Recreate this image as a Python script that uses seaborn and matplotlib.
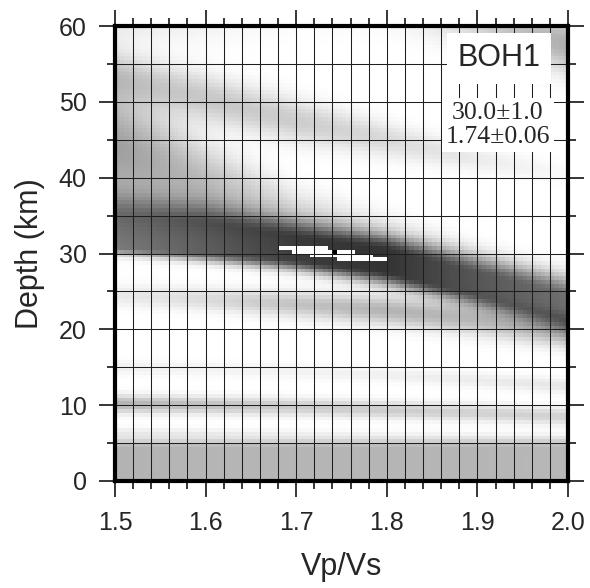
import numpy as np
import matplotlib
matplotlib.use("Agg")
import matplotlib.pyplot as plt
from matplotlib.colors import LinearSegmentedColormap, ListedColormap
import seaborn as sns

# ---- H-k stack description -------------------------------------------------
station = "BOH1"
best_depth, depth_err = 30.0, 1.0      # km
best_kappa, kappa_err = 1.74, 0.06     # Vp/Vs

k_min, k_max, dk = 1.5, 2.0, 0.005
h_min, h_max, dh = 0.0, 60.0, 0.5

k_knots = [1.50, 1.60, 1.70, 1.80, 1.90, 2.00]

# main crustal arrival ridge (asymmetric, flat-topped)
main_center = [32.7, 31.9, 30.6, 29.0, 26.0, 23.0]
main_flat = [1.8, 1.8, 1.4, 1.4, 1.3, 1.4]
main_sig_lo = [0.7, 0.8, 1.0, 1.2, 1.2, 1.3]
main_sig_hi = [2.5, 2.2, 1.8, 1.6, 1.8, 1.8]
main_amp = [0.50, 0.62, 0.76, 0.80, 0.66, 0.56]

# secondary ridges: (center, width, amplitude) along k
halo_center = [44.0, 39.5, 36.0, 34.0, 31.0, 28.0]
halo_sig = [5.5, 3.5, 2.0, 1.5, 1.5, 1.5]
halo_amp = [0.38, 0.26, 0.12, 0.05, 0.0, 0.0]

upper_center = [53.5, 50.5, 47.5, 45.0, 42.5, 40.5]
upper_sig = [2.2, 2.2, 2.0, 1.6, 1.2, 1.0]
upper_amp = [0.20, 0.22, 0.20, 0.15, 0.08, 0.02]

top_center = [62.5, 62.5, 63.0, 63.0, 61.0, 57.5]
top_sig = [3.0, 3.0, 2.5, 2.5, 2.5, 2.5]
top_amp = [0.12, 0.08, 0.03, 0.05, 0.20, 0.32]

lower_center = [24.5, 24.0, 23.3, 22.5, 21.3, 19.6]
lower_sig = [1.0, 1.1, 1.2, 1.3, 1.4, 1.4]
lower_amp = [0.08, 0.14, 0.24, 0.30, 0.28, 0.30]

mid_center = [15.0, 14.8, 14.5, 14.0, 13.3, 12.5]
mid_sig = [0.7, 0.7, 0.7, 0.7, 0.7, 0.7]
mid_amp = [0.06, 0.05, 0.05, 0.06, 0.08, 0.10]

ten_center = [10.2, 10.0, 9.8, 9.4, 9.0, 8.5]
ten_sig = [0.8, 0.8, 0.8, 0.8, 0.8, 0.8]
ten_amp = [0.30, 0.24, 0.20, 0.20, 0.18, 0.18]

six_center = [6.4, 6.3, 6.2, 6.0, 5.8, 5.6]
six_sig = [0.5, 0.5, 0.5, 0.5, 0.5, 0.5]
six_amp = [0.07, 0.06, 0.04, 0.03, 0.03, 0.03]

base_center = [2.2, 2.2, 2.2, 2.2, 2.2, 2.2]
base_flat = [2.1, 2.1, 2.1, 2.1, 2.1, 2.1]
base_sig = [0.9, 0.9, 0.9, 0.9, 0.9, 0.9]
base_amp = [0.30, 0.29, 0.29, 0.29, 0.29, 0.28]

# ---- build the stack grid --------------------------------------------------
nk = int(round((k_max - k_min) / dk))
nh = int(round((h_max - h_min) / dh))
k_cells = k_min + (np.arange(nk) + 0.5) * dk
h_cells = h_min + (np.arange(nh) + 0.5) * dh
K, H = np.meshgrid(k_cells, h_cells)


def along(vals):
    return np.interp(K, k_knots, vals)


def ridge(center, sig_lo, sig_hi, amp, flat=None):
    c = along(center)
    f = along(flat) if flat is not None else 0.0
    d = H - c
    dist = np.maximum(np.abs(d) - f, 0.0)
    s = np.where(d >= 0, along(sig_hi), along(sig_lo))
    return along(amp) * np.exp(-0.5 * (dist / s) ** 2)


stack = (ridge(main_center, main_sig_lo, main_sig_hi, main_amp, main_flat)
         + ridge(halo_center, halo_sig, halo_sig, halo_amp)
         + ridge(upper_center, upper_sig, upper_sig, upper_amp)
         + ridge(top_center, top_sig, top_sig, top_amp)
         + ridge(lower_center, lower_sig, lower_sig, lower_amp)
         + ridge(mid_center, mid_sig, mid_sig, mid_amp)
         + ridge(ten_center, ten_sig, ten_sig, ten_amp)
         + ridge(six_center, six_sig, six_sig, six_amp)
         + ridge(base_center, base_sig, base_sig, base_amp, base_flat))
stack = np.clip(stack, 0, 0.88)

# confidence region around the best (H, k): tilted along the main ridge
slope = (np.interp(best_kappa + 0.01, k_knots, main_center)
         - np.interp(best_kappa - 0.01, k_knots, main_center)) / 0.02
u = (K - best_kappa) / kappa_err
v = (H - best_depth - slope * (K - best_kappa)) / (0.7 * depth_err)
conf_mask = (u ** 2 + v ** 2) <= 1.0

# best-fit cell
ib = int(np.floor((best_kappa - k_min) / dk + 1e-9))
jb = int(np.floor((best_depth - h_min) / dh + 1e-9))
best_mask = np.ones_like(stack, dtype=bool)
best_mask[jb, ib] = False
conf_mask[jb, ib] = True

# ---- figure ----------------------------------------------------------------
sns.set_style("ticks")
plt.rcParams["font.family"] = ["Liberation Sans", "DejaVu Sans"]

fig = plt.figure(figsize=(5.9, 5.88), dpi=100)
ax = fig.add_axes([115 / 590, 107 / 588, 453 / 590, 455 / 588])

cmap = LinearSegmentedColormap.from_list("stack_grey", ["#ffffff", "#000000"])

sns.heatmap(stack, mask=conf_mask, cmap=cmap, vmin=0, vmax=1.0, cbar=False,
            ax=ax, xticklabels=False, yticklabels=False)
sns.heatmap(np.ones_like(stack), mask=best_mask, cmap=ListedColormap(["#000000"]),
            vmin=0, vmax=1, cbar=False, ax=ax, xticklabels=False, yticklabels=False)
ax.set_facecolor("white")
ax.set_xlim(0, nk)
ax.set_ylim(0, nh)


def kx(k):
    return (np.asarray(k) - k_min) / dk


def hy(h):
    return (np.asarray(h) - h_min) / dh


x_major = [1.5, 1.6, 1.7, 1.8, 1.9, 2.0]
x_minor = np.round(np.arange(1.5, 2.0001, 0.02), 3)
y_major = [0, 10, 20, 30, 40, 50, 60]
y_minor = [5, 15, 25, 35, 45, 55]

ax.set_xticks(kx(x_major), [f"{v:.1f}" for v in x_major])
ax.set_xticks(kx(x_minor), minor=True)
ax.set_yticks(hy(y_major), [f"{v:d}" for v in y_major])
ax.set_yticks(hy(y_minor), minor=True)
ax.tick_params(axis="both", which="both", direction="out", top=True, right=True,
               labeltop=False, labelright=False, color="black")
ax.tick_params(which="major", length=11.5, width=1.1, labelsize=18, pad=9)
ax.tick_params(which="minor", length=5.8, width=1.1)
ax.tick_params(axis="x", which="major", pad=10)
for lbl in ax.get_xticklabels() + ax.get_yticklabels():
    lbl.set_rotation(0)

ax.set_axisbelow(False)
ax.grid(True, which="both", color="#1e1e1e", linewidth=0.75)
for sp in ax.spines.values():
    sp.set_visible(True)
    sp.set_linewidth(3.0)
    sp.set_color("black")
    sp.set_zorder(5)

ax.set_xlabel("Vp/Vs", fontsize=22, labelpad=12)
ax.set_ylabel("Depth (km)", fontsize=22, labelpad=10)

ax.text(0.848, 0.929, station, transform=ax.transAxes, fontsize=22,
        ha="center", va="center", zorder=6,
        bbox=dict(boxstyle="square,pad=0.35", facecolor="white", edgecolor="none"))
ax.text(0.845, 0.782,
        f"{best_depth:.1f}\u00b1{depth_err:.1f}\n{best_kappa:.2f}\u00b1{kappa_err:.2f}",
        transform=ax.transAxes, fontsize=18.5, ha="center", va="center",
        linespacing=1.15, family=["Liberation Serif", "DejaVu Serif"], zorder=6,
        bbox=dict(boxstyle="square,pad=0.15", facecolor="white", edgecolor="none"))

fig.savefig("out.png", dpi=100)
